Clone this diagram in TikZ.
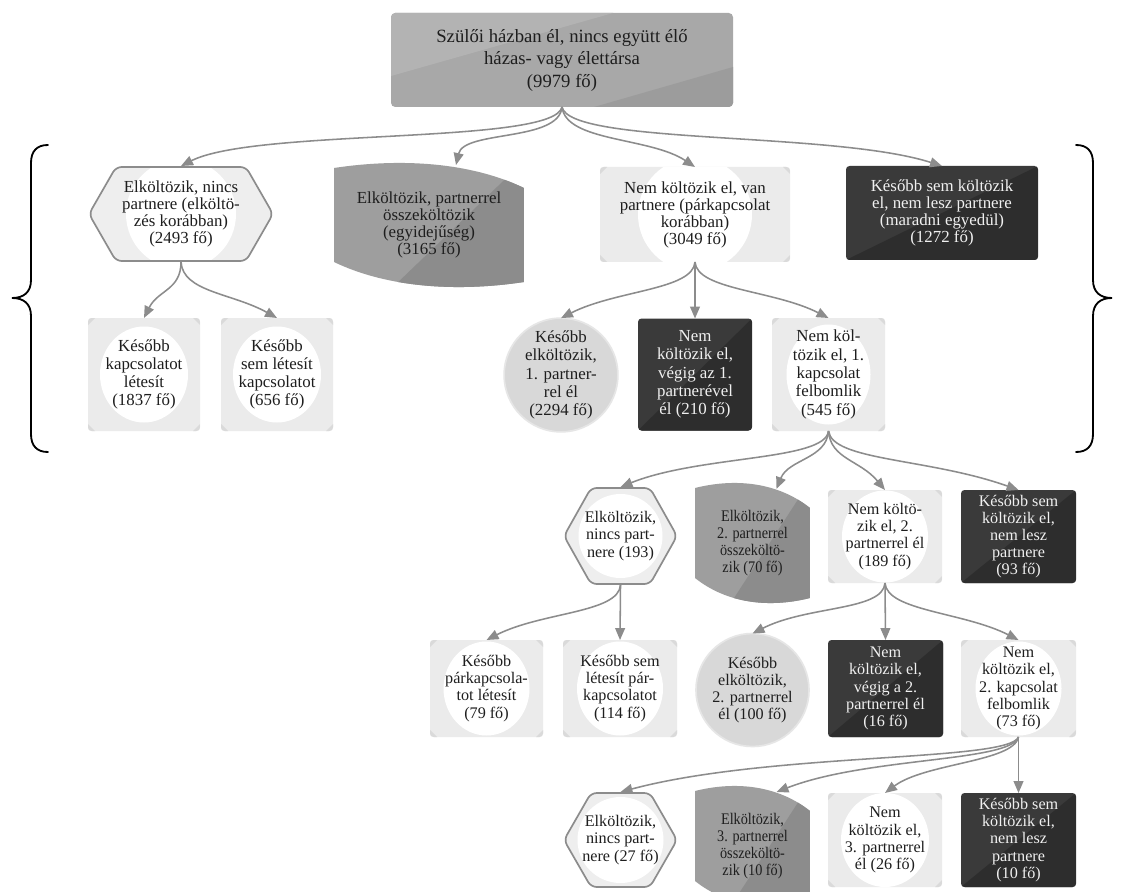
\documentclass[tikz,border=0pt]{standalone}
\usepackage{fontspec}
\setmainfont{Liberation Serif}
\newfontfamily\narrowfont[FakeStretch=0.88]{Liberation Serif}
\usetikzlibrary{arrows.meta}
\definecolor{conncol}{HTML}{8C8C8C}
\definecolor{txtcol}{HTML}{1E1E1E}
\definecolor{topmid}{HTML}{A8A8A8}
\definecolor{toplight}{HTML}{B3B3B3}
\definecolor{topdark}{HTML}{9C9C9C}
\definecolor{dkmid}{HTML}{3A3A3A}
\definecolor{dkshade}{HTML}{2D2D2D}
\definecolor{sqfill}{HTML}{EBEBEB}
\definecolor{sqcorner}{HTML}{DADADA}
\definecolor{hexfill}{HTML}{EEEEEE}
\definecolor{hexline}{HTML}{8C8C8C}
\definecolor{wavelight}{HTML}{9E9E9E}
\definecolor{wavedark}{HTML}{8C8C8C}
\definecolor{circfill}{HTML}{D8D8D8}
\definecolor{circline}{HTML}{E6E6E6}
\def\ppb{path picture bounding box}
\def\hexpath{([shift={(28,1)}]\ppb.north west) -- ([shift={(-28,1)}]\ppb.north east) -- ([shift={(-1,0)}]\ppb.east) -- ([shift={(-28,-1)}]\ppb.south east) -- ([shift={(28,-1)}]\ppb.south west) -- ([shift={(1,0)}]\ppb.west) -- cycle}
\def\wavepath#1#2{([shift={(0,7)}]\ppb.north west) .. controls +({0.347*#1},-10) and +({-0.284*#1},-26) .. ++(#1,20) -- ++(0,#2) .. controls +({-0.347*#1},10) and +({0.284*#1},26) .. ++(-#1,-20) -- cycle}

\begin{document}
\begin{tikzpicture}[x=0.025cm, y=-0.025cm,
    conn/.style={draw=conncol, line width=1.1pt, -{Triangle[length=8.5pt,width=7pt]}},
    curly/.style={line width=1.3pt, line cap=round},
    txtnode/.style={inner sep=0pt, outer sep=0pt, align=center, text=txtcol, font=\fontsize{11.5}{12.2}\selectfont},
    bigtxt/.style={font=\fontsize{12}{12.1}\selectfont},
    midtxt/.style={font=\fontsize{12}{13}\selectfont},
    narrowtxt/.style={font=\narrowfont\fontsize{11.5}{12.2}\selectfont},
    boxsize/.style 2 args={minimum width=#1*0.025cm, minimum height=#2*0.025cm},
    topbox/.style={txtnode, fill=topmid, rounded corners=3pt, font=\fontsize{13.3}{16}\selectfont,
        path picture={
            \fill[toplight, sharp corners] (\ppb.north west) -- ([shift={(0,63)}]\ppb.north west) -- ([shift={(222,0)}]\ppb.north west) -- cycle;
            \fill[topdark, sharp corners] (\ppb.south east) -- ([shift={(-139,0)}]\ppb.south east) -- ([shift={(0,-40)}]\ppb.south east) -- cycle;}},
    darkbox/.style={txtnode, fill=dkmid, rounded corners=2.5pt, text=white!94!black,
        path picture={\fill[dkshade, sharp corners] (\ppb.south west) -- (\ppb.north east) -- (\ppb.south east) -- cycle;}},
    lightbox/.style 2 args={txtnode, fill=sqfill, rounded corners=2.5pt,
        path picture={
            \fill[white] (\ppb.center) ellipse [x radius=#1, y radius=#2];
            \fill[sqcorner, sharp corners] (\ppb.north west) -- ++(7,0) -- ++(-7,7) -- cycle;
            \fill[sqcorner, sharp corners] (\ppb.north east) -- ++(-7,0) -- ++(7,7) -- cycle;
            \fill[sqcorner, sharp corners] (\ppb.south west) -- ++(7,0) -- ++(-7,-7) -- cycle;
            \fill[sqcorner, sharp corners] (\ppb.south east) -- ++(-7,0) -- ++(7,-7) -- cycle;}},
    hexbox/.style={txtnode, fill=white,
        path picture={
            \fill[hexfill, rounded corners=4pt] \hexpath;
            \fill[white] (\ppb.center) circle [radius=#1];
            \draw[hexline, line width=1.2pt, rounded corners=4pt] \hexpath;}},
    wavebox/.style 2 args={txtnode, fill=white,
        path picture={
            \clip \wavepath{#1}{#2};
            \fill[wavelight] (\ppb.north west) rectangle (\ppb.south east);
            \fill[wavedark] ([shift={({0.3*#1},0)}]\ppb.south west) -- (\ppb.north east) -- (\ppb.south east) -- cycle;}},
    roundbox/.style={txtnode, circle, fill=circfill, draw=circline, line width=1.2pt, minimum size=113*0.025cm}]

\fill[white] (0,0) rectangle (1124,892);
\useasboundingbox (0,0) rectangle (1124,892);

\node[topbox, boxsize={342}{94}] (top) at (562,60) {Szülői házban él, nincs együtt élő\\házas- vagy élettársa\\(9979 fő)};

\node[hexbox=55, boxsize={186}{96}, bigtxt] (hex1) at (181,214) {Elköltözik, nincs\\partnere (elköltö-\\zés korábban)\\(2493 fő)};
\node[wavebox={190}{94}, boxsize={190}{128}, bigtxt] (wave1) at (429,225) {Elköltözik, partnerrel\\összeköltözik\\(egyidejűség)\\(3165 fő)};
\node[lightbox={57}{57}, boxsize={190}{95}, bigtxt] (sq1) at (695,214.5) {Nem költözik el, van\\partnere (párkapcsolat\\korábban)\\(3049 fő)};
\node[darkbox, boxsize={192}{94}, bigtxt] (dk1) at (942,213) {Később sem költözik\\el, nem lesz partnere\\(maradni egyedül)\\(1272 fő)};

\node[lightbox={44}{48}, boxsize={112}{113}, midtxt] (sq2a) at (144,374.5) {Később\\kapcsolatot\\létesít\\(1837 fő)};
\node[lightbox={44}{48}, boxsize={112}{113}, midtxt] (sq2b) at (277,374.5) {Később\\sem létesít\\kapcsolatot\\(656 fő)};
\node[roundbox, midtxt] (circ2) at (561,375) {Később\\elköltözik,\\1. partner-\\rel él\\(2294 fő)};
\node[darkbox, boxsize={114}{112}, midtxt] (dk2) at (695,374.5) {Nem\\költözik el,\\végig az 1.\\partnerével\\él (210 fő)};
\node[lightbox={42}{50}, boxsize={113}{113}, midtxt] (sq2c) at (828.5,374.5) {Nem köl-\\tözik el, 1.\\kapcsolat\\felbomlik\\(545 fő)};

\node[hexbox=42, boxsize={115}{98}] (hex3) at (620.5,536) {Elköltözik,\\nincs part-\\nere (193)};
\node[wavebox={115}{90}, boxsize={115}{124}, narrowtxt] (wave3) at (752.5,543) {Elköltözik,\\2. partnerrel\\összeköltö-\\zik (70 fő)};
\node[lightbox={43}{46}, boxsize={114}{93}] (sq3) at (885,536.5) {Nem költö-\\zik el, 2.\\partnerrel él\\(189 fő)};
\node[darkbox, boxsize={115}{93}] (dk3) at (1018.5,536.5) {Később sem\\költözik el,\\nem lesz\\partnere\\(93 fő)};

\node[lightbox={43}{47}, boxsize={113}{97}] (sq4a) at (486.5,688.5) {Később\\párkapcsola-\\tot létesít\\(79 fő)};
\node[lightbox={43}{47}, boxsize={114}{97}] (sq4b) at (620,688.5) {Később sem\\létesít pár-\\kapcsolatot\\(114 fő)};
\node[roundbox] (circ4) at (752.5,690) {Később\\elköltözik,\\2. partnerrel\\él (100 fő)};
\node[darkbox, boxsize={115}{97}] (dk4) at (885.5,688.5) {Nem\\költözik el,\\végig a 2.\\partnerrel él\\(16 fő)};
\node[lightbox={43}{47}, boxsize={115}{97}] (sq4c) at (1018.5,688.5) {Nem\\költözik el,\\2. kapcsolat\\felbomlik\\(73 fő)};

\node[hexbox=43, boxsize={115}{96}] (hex5) at (620.5,840) {Elköltözik,\\nincs part-\\nere (27 fő)};
\node[wavebox={115}{90}, boxsize={115}{124}, narrowtxt] (wave5) at (752.5,846) {Elköltözik,\\3. partnerrel\\összeköltö-\\zik (10 fő)};
\node[lightbox={44}{47}, boxsize={114}{94}] (sq5) at (885,840) {Nem\\költözik el,\\3. partnerrel\\él (26 fő)};
\node[darkbox, boxsize={115}{94}] (dk5) at (1018.5,840) {Később sem\\költözik el,\\nem lesz\\partnere\\(10 fő)};

\draw[conn] (top.south) .. controls +(-8,38) and +(75,-38) .. (hex1.north);
\draw[conn] (top.south) .. controls +(-3,35) and +(8,-35) .. ([shift={(27,4)}]wave1.north);
\draw[conn] (top.south) .. controls +(4,35) and +(-45,-30) .. (sq1.north);
\draw[conn] (top.south) .. controls +(8,38) and +(-110,-35) .. (dk1.north);

\draw[conn] (hex1.south) .. controls +(0,28) and +(14,-28) .. (sq2a.north);
\draw[conn] (hex1.south) .. controls +(2,30) and +(-45,-25) .. (sq2b.north);
\draw[conn] (sq1.south) .. controls +(-2,28) and +(55,-28) .. (circ2.north);
\draw[conn] (sq1.south) -- (dk2.north);
\draw[conn] (sq1.south) .. controls +(2,28) and +(-55,-28) .. (sq2c.north);

\draw[conn] (sq2c.south) .. controls +(-3,30) and +(80,-32) .. (hex3.north);
\draw[conn] (sq2c.south) .. controls +(-2,28) and +(12,-30) .. ([shift={(24,8)}]wave3.north);
\draw[conn] (sq2c.south) .. controls +(2,28) and +(-25,-30) .. (sq3.north);
\draw[conn] (sq2c.south) .. controls +(4,30) and +(-90,-32) .. (dk3.north);

\draw[conn] (hex3.south) .. controls +(-2,28) and +(55,-28) .. (sq4a.north);
\draw[conn] (hex3.south) -- (sq4b.north);
\draw[conn] (sq3.south) .. controls +(-2,28) and +(55,-28) .. (circ4.north);
\draw[conn] (sq3.south) -- (dk4.north);
\draw[conn] (sq3.south) .. controls +(2,28) and +(-55,-28) .. (sq4c.north);

\draw[conn] (sq4c.south) .. controls +(-10,25) and +(150,-40) .. (hex5.north);
\draw[conn] (sq4c.south) .. controls +(-8,25) and +(90,-35) .. ([shift={(24,8)}]wave5.north);
\draw[conn] (sq4c.south) .. controls +(-5,25) and +(40,-30) .. (sq5.north);
\draw[conn] (sq4c.south) -- (dk5.north);

\draw[curly] (48,145) .. controls (37,145) and (31,151) .. (31,163) -- (31,280) .. controls (31,292) and (24,298) .. (12,298) .. controls (24,298) and (31,304) .. (31,316) -- (31,434) .. controls (31,446) and (37,452) .. (48,452);
\draw[curly] (1076,145) .. controls (1087,145) and (1093,151) .. (1093,163) -- (1093,280) .. controls (1093,292) and (1100,298) .. (1112,298) .. controls (1100,298) and (1093,304) .. (1093,316) -- (1093,434) .. controls (1093,446) and (1087,452) .. (1076,452);
\end{tikzpicture}
\end{document}
